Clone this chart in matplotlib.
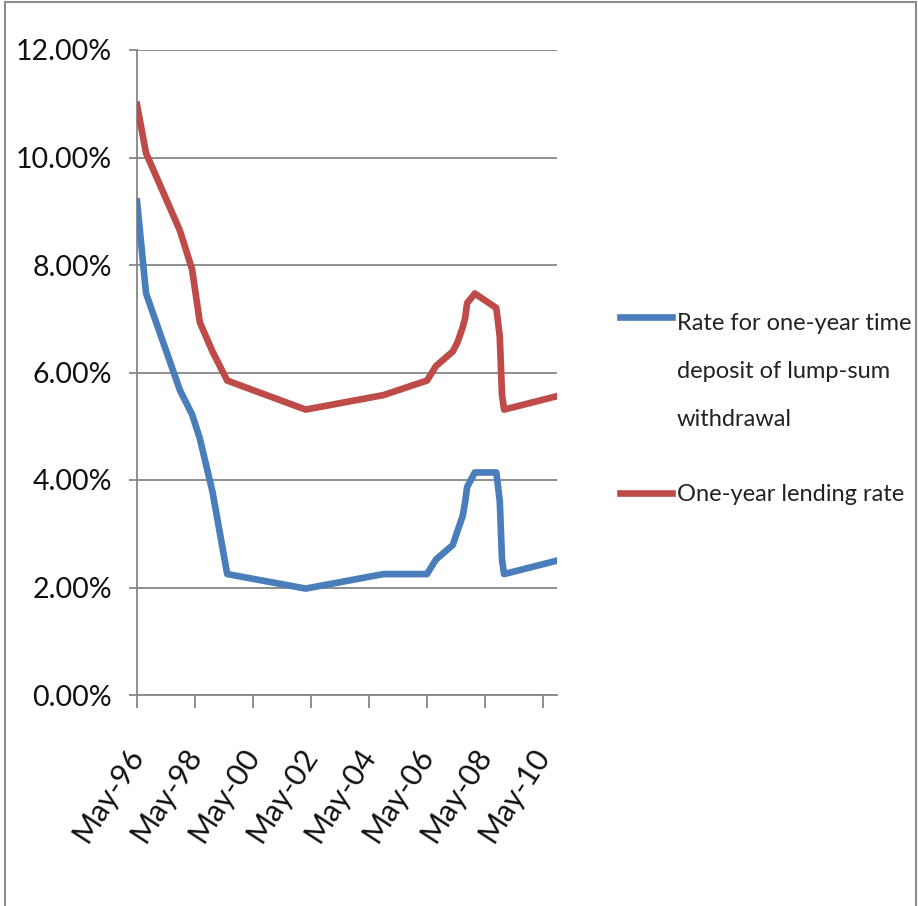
import matplotlib
matplotlib.use('Agg')
import matplotlib.pyplot as plt
import matplotlib.dates as mdates
from matplotlib.lines import Line2D
from matplotlib.patches import Rectangle
import pandas as pd
from datetime import datetime

plt.rcParams['font.family'] = ['Lato', 'DejaVu Sans']

# rate change dates and the rates in force from each date (%)
dates = ['1996-05-01', '1996-08-23', '1997-10-23', '1998-03-25', '1998-07-01',
         '1998-12-07', '1999-06-10', '2002-02-21', '2004-10-29', '2006-04-28',
         '2006-08-19', '2007-03-18', '2007-05-19', '2007-07-21', '2007-08-22',
         '2007-09-15', '2007-12-21', '2008-09-16', '2008-10-09', '2008-10-30',
         '2008-11-27', '2008-12-23', '2010-10-20']
deposit = [9.18, 7.47, 5.67, 5.22, 4.77,
           3.78, 2.25, 1.98, 2.25, 2.25,
           2.52, 2.79, 3.06, 3.33, 3.60,
           3.87, 4.14, 4.14, 3.87, 3.60,
           2.52, 2.25, 2.50]
lending = [10.98, 10.08, 8.64, 7.92, 6.93,
           6.39, 5.85, 5.31, 5.58, 5.85,
           6.12, 6.39, 6.57, 6.84, 7.02,
           7.29, 7.47, 7.20, 6.93, 6.66,
           5.58, 5.31, 5.56]
labels = ['Rate for one-year time\ndeposit of lump-sum\nwithdrawal',
          'One-year lending rate']
tick_years = [1996, 1998, 2000, 2002, 2004, 2006, 2008, 2010]

blue = '#4a7ebb'
red = '#be4b48'
grid_c = '#868686'

x = pd.to_datetime(dates)

fig = plt.figure(figsize=(9.18, 9.06), dpi=100)
ax = fig.add_axes([137/918, 1-695/906, 420/918, 645/906])

ax.plot(x, [v/100 for v in deposit], color=blue, lw=4.8, solid_joinstyle='round', zorder=3)
ax.plot(x, [v/100 for v in lending], color=red, lw=4.8, solid_joinstyle='round', zorder=3)

ax.set_ylim(0, 0.12)
ax.set_yticks([i/100 for i in range(0, 13, 2)])
ax.yaxis.set_major_formatter(matplotlib.ticker.FuncFormatter(lambda v, p: f'{v*100:.2f}%'))
ax.set_xlim(x[0], x[-1])
ax.set_xticks([datetime(y, 5, 1) for y in tick_years])
ax.xaxis.set_major_formatter(mdates.DateFormatter('%b-%y'))

ax.grid(axis='y', color=grid_c, lw=1.3)
ax.set_axisbelow(True)
for s in ['top', 'right']:
    ax.spines[s].set_visible(False)
for s in ['left', 'bottom']:
    ax.spines[s].set_color(grid_c)
    ax.spines[s].set_linewidth(1.3)

ax.tick_params(axis='y', length=6, width=1.3, color=grid_c, pad=12, labelsize=20.5, labelcolor='#111111')
ax.tick_params(axis='x', length=9, width=1.3, color=grid_c, pad=31, labelsize=22, labelcolor='#111111')
for t in ax.get_xticklabels():
    t.set_rotation(57)
    t.set_rotation_mode('anchor')
    t.set_ha('right')
    t.set_va('center')

# legend on the right
W, H = 918, 906
fig.add_artist(Line2D([620/W, 672/W], [1-317/H, 1-317/H], color=blue, lw=4.8))
fig.add_artist(Line2D([620/W, 672/W], [1-493/H, 1-493/H], color=red, lw=4.8))
for i, line in enumerate(labels[0].split('\n')):
    fig.text(677/W, 1-(330 + 48*i)/H, line, fontsize=17, color='#222222', va='baseline')
fig.text(677/W, 1-501/H, labels[1], fontsize=17, color='#222222', va='baseline')

# outer frame
fig.add_artist(Rectangle((5/W, -0.01), 911/W, 1.01 - 2/H, transform=fig.transFigure,
                         fill=False, edgecolor='#8c8c8c', lw=1.5))

fig.savefig('out.png', dpi=100)
